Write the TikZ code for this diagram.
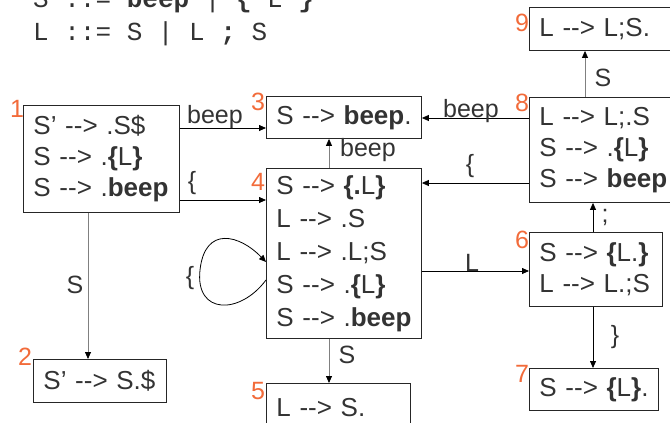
\documentclass[tikz,border=0pt]{standalone}
\usepackage{fontspec}
\setmainfont{Liberation Sans}
\setmonofont{Liberation Mono}
\usetikzlibrary{arrows.meta}
\definecolor{ink}{HTML}{333333}
\definecolor{numcol}{HTML}{F26B3A}
\definecolor{edgegray}{HTML}{808080}
\newcommand{\yields}{-{}->}
\newcommand{\bl}{\textbf{\{}}
\newcommand{\br}{\textbf{\}}}
% one item per line, never broken
\newcommand{\itm}[1]{\mbox{#1}}

\begin{document}
\begin{tikzpicture}[x=1pt,y=-1pt,
  state/.style={draw=black!85, line width=0.9pt, anchor=north west,
    inner xsep=10pt, inner ysep=0pt, align=left, text=ink,
    font=\fontsize{26}{31}\selectfont},
  num/.style={text=numcol, font=\fontsize{25}{25}\selectfont, inner sep=0pt},
  lab/.style={text=ink, font=\fontsize{25}{25}\selectfont, inner sep=0pt},
  gram/.style={anchor=base west, inner sep=0pt, text=ink,
    font=\ttfamily\fontsize{26}{32}\selectfont},
  arr/.style={-{Triangle[length=7pt,width=6pt,color=black]}, line width=0.8pt, draw=black},
  garr/.style={arr, draw=edgegray}]

\useasboundingbox (0,0) rectangle (670,423);

% grammar
\node[gram] (g1) at (33,8) {S ::= \textbf{beep} | \textbf{\{} L \textbf{\}}};
\node[gram] (g2) at (33,40) {L ::= S | L \textbf{;} S};

% item sets
\node[state, text width=136pt, minimum height=107pt] (n1) at (23,105)
  {\itm{S’ \yields{} .S\$}\\\itm{S \yields{} .\bl L\br}\\\itm{S \yields{} .\textbf{beep}}};
\node[state, text width=113pt, minimum height=43pt] (n2) at (33,359)
  {\itm{S’ \yields{} S.\$}};
\node[state, text width=135pt, minimum height=42pt] (n3) at (266,96)
  {\itm{S \yields{} \textbf{beep}.}};
\node[state, text width=135pt, minimum height=170pt,
  font=\fontsize{26}{33}\selectfont] (n4) at (266,168)
  {\itm{S \yields{} \textbf{\{.}L\br}\\\itm{L \yields{} .S}\\\itm{L \yields{} .L;S}\\\itm{S \yields{} .\bl L\br}\\\itm{S \yields{} .\textbf{beep}}};
\node[state, text width=124pt, minimum height=48pt] (n5) at (266,383)
  {\itm{L \yields{} S.}};
\node[state, text width=113pt, minimum height=74pt] (n6) at (529,232)
  {\itm{S \yields{} \bl L.\br}\\\itm{L \yields{} L.;S}};
\node[state, text width=109pt, minimum height=42pt] (n7) at (529,368)
  {\itm{S \yields{} \bl L\br.}};
\node[state, text width=140pt, minimum height=105pt] (n8) at (529,97)
  {\itm{L \yields{} L;.S}\\\itm{S \yields{} .\bl L\br}\\\itm{S \yields{} \textbf{beep}}};
\node[state, text width=140pt, minimum height=43pt] (n9) at (529,7)
  {\itm{L \yields{} L;S.}};

% state numbers
\node[num] (k1) at (17,109) {1};
\node[num] (k2) at (25,357) {2};
\node[num] (k3) at (258,102) {3};
\node[num] (k4) at (258,182) {4};
\node[num] (k5) at (258,391) {5};
\node[num] (k6) at (522,240) {6};
\node[num] (k7) at (522,374) {7};
\node[num] (k8) at (522,103) {8};
\node[num] (k9) at (522,23) {9};

% transitions
\draw[arr] ([yshift=-23pt]n1.north east) coordinate (a13) -- (a13 -| n3.west);
\draw[arr] ([yshift=-95pt]n1.north east) coordinate (a14) -- (a14 -| n4.west);
\draw[garr] ([xshift=65pt]n1.south west) coordinate (a12) -- (a12 |- n2.north);
\draw[garr] ([xshift=63pt]n4.north west) coordinate (a43) -- (a43 |- n3.south);
\draw[garr] ([xshift=63pt]n4.south west) coordinate (a45) -- (a45 |- n5.north);
\draw[arr] ([yshift=-103pt]n4.north east) coordinate (a46) -- (a46 -| n6.west);
\draw[arr] ([yshift=-21pt]n8.north west) coordinate (a83) -- (a83 -| n3.east);
\draw[arr] ([yshift=-86pt]n8.north west) coordinate (a84) -- (a84 -| n4.east);
\draw[garr] ([xshift=56pt]n8.north west) coordinate (a89) -- (a89 |- n9.south);
\draw[arr] ([xshift=64pt]n6.north west) coordinate (a68) -- (a68 |- n8.south);
\draw[arr] ([xshift=64pt]n6.south west) coordinate (a67) -- (a67 |- n7.north);
% loop on state 4
\draw[arr] ([yshift=-112pt]n4.north west) coordinate (l4a)
  .. controls (240,315) and (195,315) .. (200,270)
  .. controls (205,225) and (240,235) .. ([yshift=-94pt]n4.north west);

% transition labels
\node[lab] (t13) at (215,117) {beep};
\node[lab] (t14) at (192,183) {\{};
\node[lab] (t12) at (75,285) {S};
\node[lab] (t43) at (368,150) {beep};
\node[lab] (t44) at (190,278) {\{};
\node[lab] (t45) at (347,355) {S};
\node[lab] (t46) at (472,263) {L};
\node[lab] (t83) at (471,111) {beep};
\node[lab] (t84) at (470,166) {\{};
\node[lab] (t89) at (603,78) {S};
\node[lab] (t68) at (605,217) {;};
\node[lab] (t67) at (615,337) {\}};
\end{tikzpicture}
\end{document}
